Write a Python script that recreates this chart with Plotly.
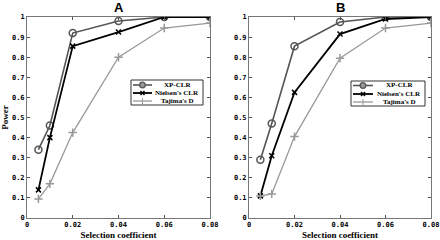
import plotly.graph_objects as go

x_vals = [0.005, 0.01, 0.02, 0.04, 0.06, 0.08]

a_xpclr = [0.34, 0.46, 0.92, 0.98, 1.0, 1.0]
a_nielsen = [0.14, 0.40, 0.855, 0.925, 1.0, 1.0]
a_tajima = [0.095, 0.17, 0.425, 0.80, 0.945, 0.97]

b_xpclr = [0.29, 0.47, 0.855, 0.975, 1.0, 1.0]
b_nielsen = [0.11, 0.31, 0.625, 0.915, 0.99, 1.0]
b_tajima = [0.11, 0.12, 0.405, 0.795, 0.945, 0.97]

series_names = ["XP-CLR", "Nielsen's CLR", "Tajima's D"]
panel_titles = ["A", "B"]
y_ticks = [0, 0.1, 0.2, 0.3, 0.4, 0.5, 0.6, 0.7, 0.8, 0.9, 1]
y_tick_labels = ["0", "0.1", "0.2", "0.3", "0.4", "0.5", "0.6", "0.7", "0.8", "0.9", "1"]
x_ticks = [0, 0.02, 0.04, 0.06, 0.08]
x_tick_labels = ["0", "0.02", "0.04", "0.06", "0.08"]

W, H = 440, 240
styles = [
    dict(color="#555555", symbol="circle-open", size=7, width=1.6),
    dict(color="#000000", symbol="x-thin-open", size=5, width=1.8),
    dict(color="#999999", symbol="cross-thin-open", size=6, width=1.3),
]

fig = go.Figure()
panels = [(a_xpclr, a_nielsen, a_tajima), (b_xpclr, b_nielsen, b_tajima)]
for p, data in enumerate(panels):
    xa = "x" if p == 0 else "x2"
    ya = "y" if p == 0 else "y2"
    for name, ys, st in zip(series_names, data, styles):
        fig.add_trace(go.Scatter(
            x=x_vals, y=ys, name=name, mode="lines+markers",
            xaxis=xa, yaxis=ya, showlegend=False,
            line=dict(color=st["color"], width=st["width"]),
            marker=dict(symbol=st["symbol"], size=st["size"], color=st["color"],
                        line=dict(color=st["color"], width=1.5)),
        ))

ydom = [1 - 218 / H, 1 - 17 / H]
xdoms = [[27 / W, 210 / W], [249 / W, 431 / W]]
tickfont = dict(family="DejaVu Sans Mono", size=7, color="#000", weight="bold")
titlefont = dict(family="Liberation Serif", size=9, color="#000")
for i, dom in enumerate(xdoms):
    sfx = "" if i == 0 else "2"
    fig.layout["xaxis" + sfx] = dict(
        domain=dom, range=[0, 0.08], tickvals=x_ticks, ticktext=x_tick_labels,
        ticks="inside", ticklen=3, tickcolor="#555", showline=True, linecolor="#777",
        linewidth=1, mirror="ticks", showgrid=False, zeroline=False, tickfont=tickfont,
        anchor="y" + sfx, automargin=False,
        title=dict(text="<b>Selection coefficient</b>", standoff=7, font=titlefont),
    )
    fig.layout["yaxis" + sfx] = dict(
        domain=ydom, range=[0, 1], tickvals=y_ticks, ticktext=y_tick_labels,
        ticks="inside", ticklen=3, tickcolor="#555", showline=True, linecolor="#777",
        linewidth=1, mirror="ticks", showgrid=False, zeroline=False, tickfont=tickfont,
        anchor="x" + sfx, automargin=False,
    )
fig.layout.yaxis.title = dict(text="<b>Power</b>", standoff=2, font=titlefont)

for i, t in enumerate(panel_titles):
    cx = (xdoms[i][0] + xdoms[i][1]) / 2
    fig.add_annotation(text="<b>%s</b>" % t, x=cx, y=1 - 8 / H, xref="paper", yref="paper",
                       xanchor="center", yanchor="middle",
                       showarrow=False, font=dict(family="Liberation Sans", size=13, color="#000"))

# hand-drawn legends (pixel layout converted to paper coords)
def px(x):
    return x / W

def py(y):
    return 1 - y / H

legend_boxes = [dict(x0=131, x1=203, y0=80, y1=105, rows=[85, 93, 101], lx0=133, lx1=152, tx=177),
                dict(x0=351, x1=425, y0=81, y1=106, rows=[85.5, 94, 102], lx0=353, lx1=373, tx=399)]
for lb in legend_boxes:
    fig.add_shape(type="rect", xref="paper", yref="paper", layer="above",
                  x0=px(lb["x0"]), x1=px(lb["x1"]), y0=py(lb["y0"]), y1=py(lb["y1"]),
                  fillcolor="white", line=dict(color="#333", width=1))
    mx = (lb["lx0"] + lb["lx1"]) / 2
    for k, (name, st) in enumerate(zip(series_names, styles)):
        ry = lb["rows"][k]
        fig.add_shape(type="line", xref="paper", yref="paper", layer="above",
                      x0=px(lb["lx0"]), x1=px(lb["lx1"]), y0=py(ry), y1=py(ry),
                      line=dict(color=st["color"], width=st["width"]))
        if k == 0:
            r = 2.8
            fig.add_shape(type="circle", xref="paper", yref="paper", layer="above",
                          x0=px(mx - r), x1=px(mx + r), y0=py(ry - r), y1=py(ry + r),
                          fillcolor="#999", line=dict(color=st["color"], width=1.3))
        elif k == 1:
            r = 2
            for s in (1, -1):
                fig.add_shape(type="line", xref="paper", yref="paper", layer="above",
                              x0=px(mx - r), x1=px(mx + r), y0=py(ry - s * r), y1=py(ry + s * r),
                              line=dict(color=st["color"], width=1.5))
        else:
            r = 3
            fig.add_shape(type="line", xref="paper", yref="paper", layer="above",
                          x0=px(mx), x1=px(mx), y0=py(ry - r), y1=py(ry + r),
                          line=dict(color=st["color"], width=1))
        fig.add_annotation(text="<b>%s</b>" % name, x=px(lb["tx"]), y=py(ry),
                           xref="paper", yref="paper", xanchor="center", yanchor="middle",
                           showarrow=False,
                           font=dict(family="Liberation Serif", size=7, color="#000"))

fig.update_layout(
    width=W, height=H, margin=dict(l=0, r=0, t=0, b=0, autoexpand=False),
    paper_bgcolor="white", plot_bgcolor="white", showlegend=False,
)
fig.write_html("out.html", post_script="document.body.style.margin='0';",
               config={"displayModeBar": False})
